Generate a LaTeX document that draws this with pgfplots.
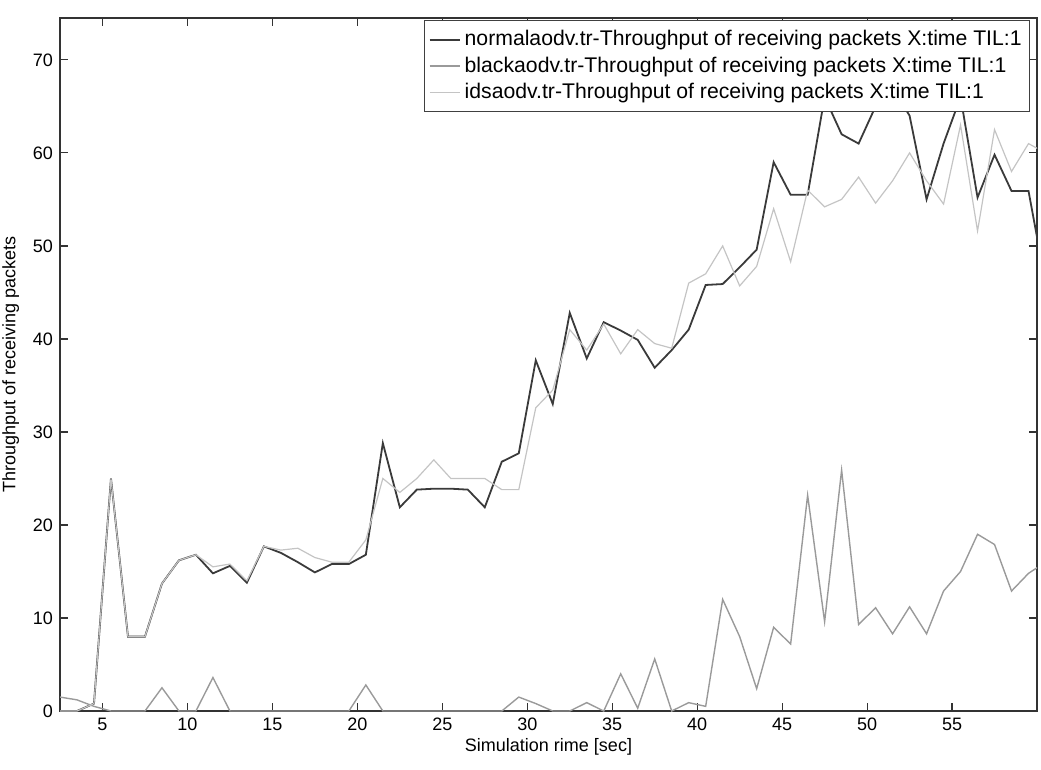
\documentclass[border=0pt]{standalone}
\usepackage{fontspec}
\setmainfont{Liberation Sans}
\usepackage{pgfplots}
\pgfplotsset{compat=1.18}
\definecolor{normc}{HTML}{3A3A3A}
\definecolor{blackc}{HTML}{9A9A9A}
\definecolor{idsc}{HTML}{C4C4C4}
\begin{document}
\begin{tikzpicture}
\begin{axis}[
    name=ax,
    scale only axis,
    width=488.5pt, height=346.5pt,
    xmin=2.5, xmax=60,
    ymin=0, ymax=74.5,
    xtick={5,10,...,55},
    ytick={0,10,...,70},
    tick align=inside,
    major tick length=4pt,
    axis line style={color=black!80, line width=0.6pt},
    tick style={color=black!80, line width=0.6pt},
    /pgf/number format/assume math mode=true,
    ticklabel style={font=\fontsize{9}{10}\selectfont},
    xlabel={Simulation rime [sec]},
    ylabel={Throughput of receiving packets},
    label style={font=\fontsize{9}{10}\selectfont},
    xlabel style={yshift=3pt},
    legend cell align=left,
    legend style={at={(0.993,0.997)}, anchor=north east,
        draw=black!75, fill=white, line width=0.5pt,
        font=\fontsize{10.6}{12.5}\selectfont,
        row sep=0pt, inner xsep=2pt, inner ysep=3pt},
    legend image code/.code={\draw[#1] (0pt,0pt) -- (12.5pt,0pt); \path (0pt,0pt) -- (15pt,0pt);},
]
% normalaodv
\addplot[color=normc, line width=0.9pt] coordinates {
(2.5,0)(3.5,0)(4.5,0.8)(5.5,25)(6.5,8)(7.5,8)(8.5,13.7)(9.5,16.2)(10.5,16.8)
(11.5,14.8)(12.5,15.6)(13.5,13.8)(14.5,17.7)(15.5,17)(16.5,16)(17.5,14.9)
(18.5,15.8)(19.5,15.8)(20.5,16.8)(21.5,28.8)(22.5,21.9)(23.5,23.8)(24.5,23.9)
(25.5,23.9)(26.5,23.8)(27.5,21.9)(28.5,26.8)(29.5,27.7)(30.5,37.7)(31.5,33)
(32.5,42.8)(33.5,37.9)(34.5,41.8)(35.5,40.9)(36.5,39.9)(37.5,36.9)(38.5,38.8)
(39.5,41)(40.5,45.8)(41.5,45.9)(42.5,47.7)(43.5,49.6)(44.5,59)(45.5,55.5)
(46.5,55.5)(47.5,66)(48.5,62)(49.5,61)(50.5,65)(51.5,67)(52.5,64)(53.5,55)
(54.5,61)(55.5,66)(56.5,55.2)(57.5,59.8)(58.5,55.9)(59.5,55.9)(60.5,46)};
% blackaodv
\addplot[color=blackc, line width=0.7pt] coordinates {
(2.5,1.5)(3.5,1.2)(4.5,0.5)(5.5,0)(6.5,0)(7.5,0)(8.5,2.5)(9.5,0)(10.5,0)
(11.5,3.6)(12.5,0)(13.5,0)(14.5,0)(15.5,0)(16.5,0)(17.5,0)(18.5,0)(19.5,0)
(20.5,2.8)(21.5,0)(22.5,0)(23.5,0)(24.5,0)(25.5,0)(26.5,0)(27.5,0)(28.5,0)
(29.5,1.5)(30.5,0.8)(31.5,0)(32.5,0)(33.5,0.9)(34.5,0)(35.5,4)(36.5,0.3)
(37.5,5.6)(38.5,0)(39.5,0.9)(40.5,0.5)(41.5,12)(42.5,8)(43.5,2.4)(44.5,9)
(45.5,7.2)(46.5,23.2)(47.5,9.6)(48.5,25.9)(49.5,9.3)(50.5,11.1)(51.5,8.3)
(52.5,11.2)(53.5,8.3)(54.5,12.9)(55.5,15)(56.5,19)(57.5,17.9)(58.5,12.9)
(59.5,14.8)(60.5,16)};
% idsaodv
\addplot[color=idsc, line width=0.6pt] coordinates {
(2.5,0)(3.5,0)(4.5,0.8)(5.5,25)(6.5,8)(7.5,8)(8.5,13.7)(9.5,16.2)(10.5,16.8)
(11.5,15.5)(12.5,15.8)(13.5,14)(14.5,17.7)(15.5,17.3)(16.5,17.5)(17.5,16.5)
(18.5,16)(19.5,16)(20.5,18.4)(21.5,25)(22.5,23.5)(23.5,25)(24.5,27)(25.5,25)
(26.5,25)(27.5,25)(28.5,23.8)(29.5,23.8)(30.5,32.6)(31.5,34.5)(32.5,41)
(33.5,38.8)(34.5,41.6)(35.5,38.4)(36.5,41)(37.5,39.5)(38.5,39)(39.5,46)
(40.5,47)(41.5,50)(42.5,45.7)(43.5,47.8)(44.5,54)(45.5,48.3)(46.5,56)
(47.5,54.2)(48.5,55)(49.5,57.4)(50.5,54.6)(51.5,57)(52.5,60)(53.5,57)
(54.5,54.5)(55.5,63)(56.5,51.6)(57.5,62.5)(58.5,58)(59.5,61)(60.5,60)};
\legend{normalaodv.tr-Throughput of receiving packets X:time TIL:1,
        blackaodv.tr-Throughput of receiving packets X:time TIL:1,
        idsaodv.tr-Throughput of receiving packets X:time TIL:1}
\end{axis}
\pgfresetboundingbox
\path ([xshift=-30pt,yshift=-29pt]ax.south west) rectangle ([xshift=2pt,yshift=9pt]ax.north east);
\end{tikzpicture}
\end{document}
